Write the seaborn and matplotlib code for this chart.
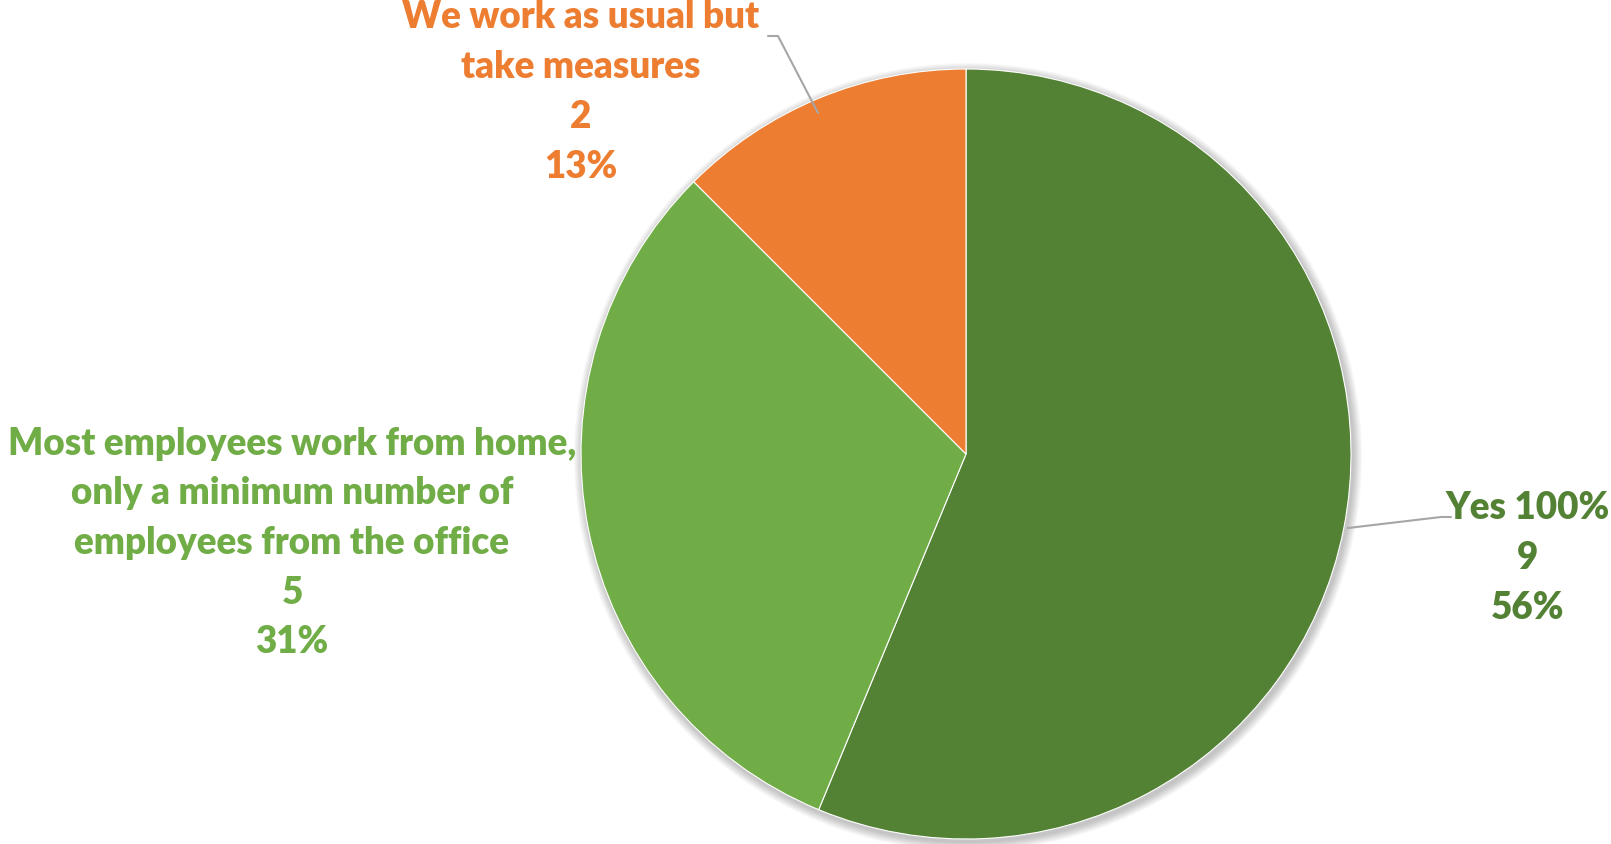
import math
import matplotlib
matplotlib.use("Agg")
import matplotlib.pyplot as plt
from matplotlib.patches import Circle
import seaborn as sns

# Survey answers and counts
categories = [
    "Yes 100%",
    "Most employees work from home,\nonly a minimum number of\nemployees from the office",
    "We work as usual but\ntake measures",
]
counts = [9, 5, 2]
colors = ["#548235", "#70AD47", "#ED7D31"]

sns.set_theme(style="white")
plt.rcParams["font.family"] = ["Lato", "DejaVu Sans"]

W, H = 1611, 845
fig = plt.figure(figsize=(W / 100, H / 100), dpi=100)
ax = fig.add_axes([0, 0, 1, 1])

cx, cy, r = 966, H - 455, 385

# soft shadow around the pie
for i in range(10):
    ax.add_patch(Circle((cx + 2, cy - 3), r + 1 + i * 0.9, color="black",
                        alpha=0.022, lw=0, zorder=1))

wedges, _ = ax.pie(counts, colors=colors, startangle=90, counterclock=False,
                   center=(cx, cy), radius=r,
                   wedgeprops=dict(edgecolor="white", linewidth=0.8, zorder=3))
for w in wedges:
    w.set_zorder(3)

total = sum(counts)
pct = [math.floor(c / total * 100 + 0.5) for c in counts]

# label anchor positions (centre of text block) and leader lines
label_pos = [(1528, H - 558), (292, H - 543), (581, H - 92)]
leaders = [
    [(1348, H - 529), (1441, H - 518), (1451, H - 518)],
    None,
    [(818, H - 114), (778, H - 37), (768, H - 37)],
]

for name, c, p, col, pos, ld in zip(categories, counts, pct, colors, label_pos, leaders):
    ax.text(pos[0], pos[1], f"{name}\n{c}\n{p}%", color=col, fontsize=26.5,
            fontweight="heavy", ha="center", va="center", linespacing=1.56,
            zorder=2)
    if ld is not None:
        xs, ys = zip(*ld)
        ax.plot(xs, ys, color="#A6A6A6", lw=1.5, zorder=4)

ax.set_xlim(0, W)
ax.set_ylim(0, H)
ax.set_aspect("auto")
ax.axis("off")

fig.savefig("out.png", dpi=100, facecolor="white")
